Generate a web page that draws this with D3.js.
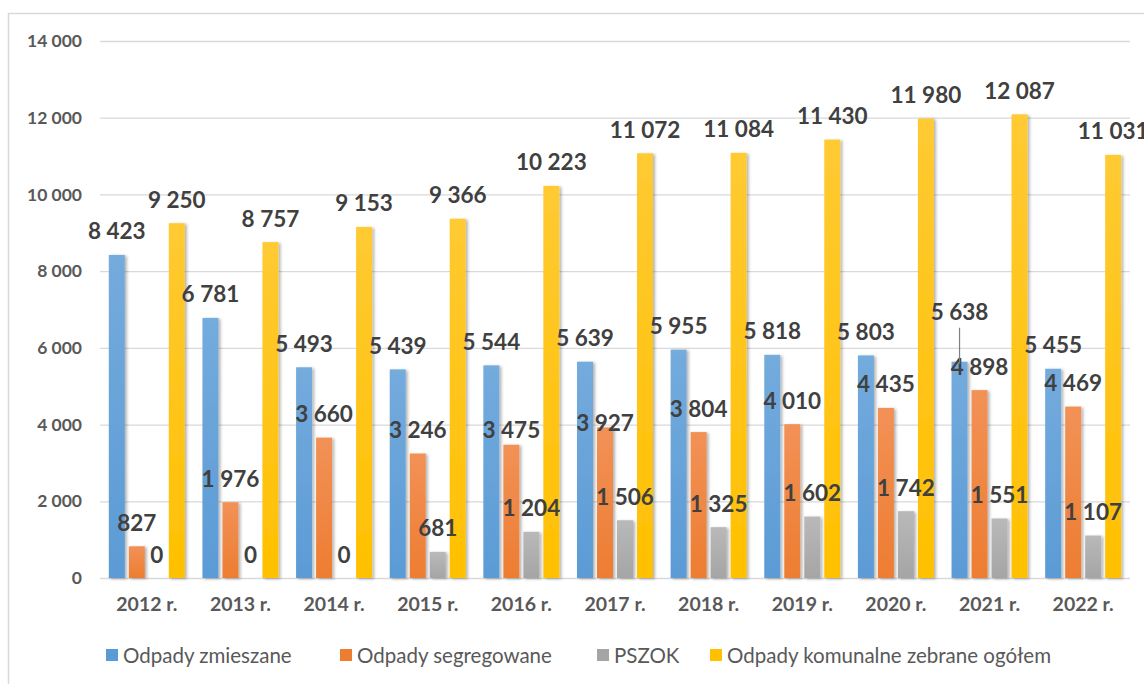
<html>
  <head>
    <meta charset="utf-8">
    <title>Odpady komunalne 2012-2022</title>
    <script type="text/javascript" src="https://d3js.org/d3.v7.min.js"></script>
    <style type="text/css">
      body { margin: 0; background: #fff; }
      text { font-family: Lato, "Open Sans", sans-serif; }
    </style>
  </head>
  <body>
    <script type="text/javascript">

      // data
      var years = ["2012 r.", "2013 r.", "2014 r.", "2015 r.", "2016 r.", "2017 r.",
                   "2018 r.", "2019 r.", "2020 r.", "2021 r.", "2022 r."];
      var seriesNames = ["Odpady zmieszane", "Odpady segregowane", "PSZOK",
                         "Odpady komunalne zebrane ogółem"];
      var zmieszane = [8423, 6781, 5493, 5439, 5544, 5639, 5955, 5818, 5803, 5638, 5455];
      var segregowane = [827, 1976, 3660, 3246, 3475, 3927, 3804, 4010, 4435, 4898, 4469];
      var pszok = [0, 0, 0, 681, 1204, 1506, 1325, 1602, 1742, 1551, 1107];
      var ogolem = [9250, 8757, 9153, 9366, 10223, 11072, 11084, 11430, 11980, 12087, 11031];
      var yTicks = [0, 2000, 4000, 6000, 8000, 10000, 12000, 14000];

      var colors = ["#5b9bd5", "#ed7d31", "#a5a5a5", "#ffc000"];
      var lighter = ["#74abdd", "#f29157", "#b9b9b9", "#ffca33"];

      var w = 1144, h = 684;
      var allSeries = [zmieszane, segregowane, pszok, ogolem];

      var fmt = d3.formatLocale({decimal: ",", thousands: " ", grouping: [3], currency: ["", ""]}).format(",d");

      var svg = d3.select("body").append("svg")
        .attr("width", w).attr("height", h);

      var defs = svg.append("defs");
      var shadow = defs.append("filter").attr("id", "shadow")
        .attr("x", "-30%").attr("y", "-10%").attr("width", "160%").attr("height", "120%");
      shadow.append("feDropShadow").attr("dx", 2).attr("dy", 1)
        .attr("stdDeviation", 1.4).attr("flood-color", "#000").attr("flood-opacity", 0.3);
      colors.forEach(function(c, i) {
        var g = defs.append("linearGradient").attr("id", "grad" + i)
          .attr("x1", 0).attr("y1", 0).attr("x2", 0).attr("y2", 1);
        g.append("stop").attr("offset", "0%").attr("stop-color", lighter[i]);
        g.append("stop").attr("offset", "100%").attr("stop-color", c);
      });

      // frame
      svg.append("rect").attr("x", 8.5).attr("y", 13.5).attr("width", 1160).attr("height", 700)
        .attr("fill", "none").attr("stroke", "#d9d9d9").attr("stroke-width", 1.5);

      var x = d3.scaleBand().domain(years).range([100, 1130]);
      var y = d3.scaleLinear().domain([0, 14000]).range([578, 41]);

      var barW = 16, barStep = 20;
      function barX(i, s) {
        return x(years[i]) + x.bandwidth() / 2 + (s - 1.5) * barStep - barW / 2;
      }

      // y axis with gridlines
      var yAxis = svg.append("g").attr("transform", "translate(100,0)")
        .call(d3.axisLeft(y).tickValues(yTicks).tickFormat(fmt)
          .tickSizeInner(-1030).tickSizeOuter(0).tickPadding(18));
      yAxis.select(".domain").remove();
      yAxis.selectAll(".tick line").attr("stroke", "#d9d9d9").attr("stroke-width", 1.3);
      yAxis.selectAll(".tick text").attr("fill", "#595959")
        .style("font-size", "17.5px").style("font-weight", "bold");

      // x axis
      var xAxis = svg.append("g").attr("transform", "translate(0,578)")
        .call(d3.axisBottom(x).tickSize(0).tickPadding(19));
      xAxis.select(".domain").remove();
      xAxis.selectAll(".tick text").attr("fill", "#595959")
        .style("font-size", "19.5px").style("font-weight", "bold");

      // bars
      allSeries.forEach(function(vals, s) {
        svg.append("g").selectAll("rect")
          .data(vals)
          .enter()
          .append("rect")
          .attr("x", function(d, i) { return barX(i, s); })
          .attr("y", function(d) { return y(d); })
          .attr("width", barW)
          .attr("height", function(d) { return y(0) - y(d); })
          .attr("fill", "url(#grad" + s + ")")
          .attr("filter", "url(#shadow)");
      });

      // value labels (a few were moved by hand in the original)
      var nudge = {"1-4": 9, "1-5": 19, "0-9": -26};
      allSeries.forEach(function(vals, s) {
        svg.append("g").selectAll("text")
          .data(vals)
          .enter()
          .append("text")
          .attr("x", function(d, i) { return barX(i, s) + barW / 2; })
          .attr("y", function(d, i) { return y(d) - 24 + (nudge[s + "-" + i] || 0); })
          .attr("text-anchor", "middle")
          .attr("dominant-baseline", "central")
          .attr("fill", "#404040")
          .style("font-size", "22.5px").style("font-weight", "bold")
          .text(function(d) { return fmt(d); });
      });

      // leader line for the moved 2021 label
      svg.append("line")
        .attr("x1", barX(9, 0) + barW / 2).attr("x2", barX(9, 0) + barW / 2)
        .attr("y1", y(zmieszane[9]) - 34).attr("y2", y(zmieszane[9]) + 2)
        .attr("stroke", "#7f7f7f").attr("stroke-width", 1.2);

      // legend
      var legendX = [106, 340, 597, 710];
      var legend = svg.append("g");
      seriesNames.forEach(function(name, i) {
        legend.append("rect").attr("x", legendX[i]).attr("y", 649)
          .attr("width", 12).attr("height", 12).attr("fill", colors[i]);
        legend.append("text").attr("x", legendX[i] + 17).attr("y", 655)
          .attr("dominant-baseline", "central")
          .attr("fill", "#595959").style("font-size", "20.5px")
          .text(name);
      });

    </script>
  </body>
</html>
